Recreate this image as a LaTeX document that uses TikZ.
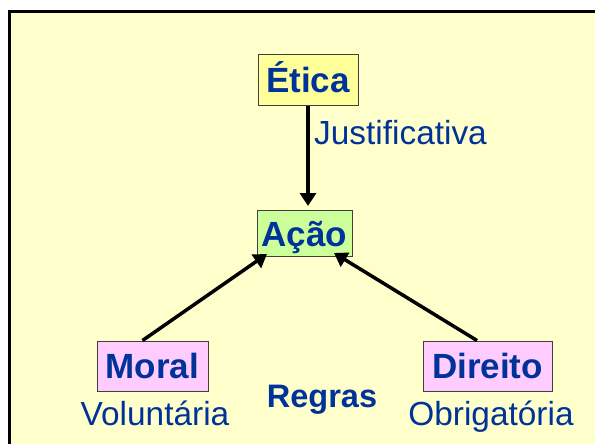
\documentclass[tikz,border=0pt]{standalone}
\usepackage{fontspec}
\setmainfont{Liberation Sans}
\usetikzlibrary{arrows.meta}
\definecolor{bgyellow}{HTML}{FFFFCC}
\definecolor{eticafill}{HTML}{FFFF99}
\definecolor{acaofill}{HTML}{CCFF99}
\definecolor{pinkfill}{HTML}{FFCCFF}
\definecolor{txtblue}{HTML}{003399}
\definecolor{boxline}{HTML}{404040}
\tikzset{
  box/.style={draw=boxline, line width=1pt, inner sep=0pt, text=txtblue,
    font=\fontsize{35}{38}\selectfont\bfseries, text height=25pt, text depth=0pt},
  lbl/.style={inner sep=0pt, text=txtblue, font=\fontsize{33.4}{36}\selectfont, anchor=base},
  arr/.style={line width=3.5pt, -{Triangle[length=13pt,width=16pt]}}
}
\begin{document}
\begin{tikzpicture}[x=1pt,y=-1pt]
\useasboundingbox (0,0) rectangle (595,444);
\fill[white] (0,0) rectangle (595,444);
\draw[line width=3pt, fill=bgyellow] (9.5,11.5) rectangle (610,460);
\node[box, fill=eticafill, minimum width=100pt, minimum height=51pt] (etica) at (308,80.5) {Ética};
\node[box, fill=acaofill, minimum width=95pt, minimum height=46pt] (acao) at (304.5,233.5) {Ação};
\node[box, fill=pinkfill, minimum width=111pt, minimum height=50pt] (moral) at (152.5,366) {Moral};
\node[box, fill=pinkfill, minimum width=129pt, minimum height=50pt] (direito) at (487.5,366) {Direito};
\node[lbl, anchor=base west] (just) at (314,144) {Justificativa};
\node[lbl] (vol) at (155,425) {Voluntária};
\node[lbl] (obr) at (491,425) {Obrigatória};
\node[lbl, font=\fontsize{32.5}{36}\selectfont\bfseries] (regras) at (322,407) {Regras};
\draw[arr] (etica.south) -- ([yshift=4pt]acao.north -| etica.south);
\draw[arr] ([xshift=-10pt]moral.north) -- ([xshift=-37.5pt,yshift=3pt]acao.south);
\draw[arr] ([xshift=-10.5pt]direito.north) -- ([xshift=29.5pt,yshift=4pt]acao.south);
\end{tikzpicture}
\end{document}
